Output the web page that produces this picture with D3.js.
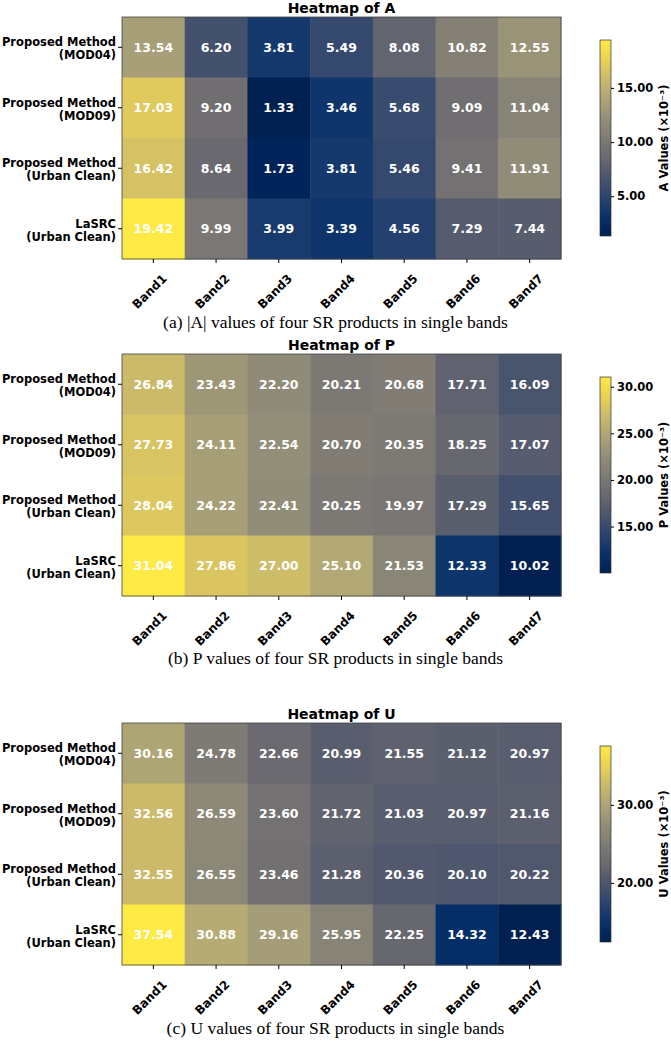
<!DOCTYPE html>
<html><head><meta charset="utf-8">
<script src="https://cdn.jsdelivr.net/npm/d3@7"></script>
<style>body{margin:0;background:#fff}</style>
</head><body>
<div id="chart"></div>
<script>
const bands = ['Band1','Band2','Band3','Band4','Band5','Band6','Band7'];
const methods = [['Proposed Method','(MOD04)'],['Proposed Method','(MOD09)'],['Proposed Method','(Urban Clean)'],['LaSRC','(Urban Clean)']];

const valuesA = [
  [13.54, 6.20, 3.81, 5.49, 8.08, 10.82, 12.55],
  [17.03, 9.20, 1.33, 3.46, 5.68, 9.09, 11.04],
  [16.42, 8.64, 1.73, 3.81, 5.46, 9.41, 11.91],
  [19.42, 9.99, 3.99, 3.39, 4.56, 7.29, 7.44]
];
const valuesP = [
  [26.84, 23.43, 22.20, 20.21, 20.68, 17.71, 16.09],
  [27.73, 24.11, 22.54, 20.70, 20.35, 18.25, 17.07],
  [28.04, 24.22, 22.41, 20.25, 19.97, 17.29, 15.65],
  [31.04, 27.86, 27.00, 25.10, 21.53, 12.33, 10.02]
];
const valuesU = [
  [30.16, 24.78, 22.66, 20.99, 21.55, 21.12, 20.97],
  [32.56, 26.59, 23.60, 21.72, 21.03, 20.97, 21.16],
  [32.55, 26.55, 23.46, 21.28, 20.36, 20.10, 20.22],
  [37.54, 30.88, 29.16, 25.95, 22.25, 14.32, 12.43]
];
const ticksA = [5, 10, 15], ticksP = [15, 20, 25, 30], ticksU = [20, 30];

const panels = [
  {name:'A', values:valuesA, ticks:ticksA, top:17, caption:'(a) |A| values of four SR products in single bands', capY:328},
  {name:'P', values:valuesP, ticks:ticksP, top:354, caption:'(b) P values of four SR products in single bands', capY:664},
  {name:'U', values:valuesU, ticks:ticksU, top:723, caption:'(c) U values of four SR products in single bands', capY:1034}
];

const W = 671, H = 1041, left = 122, gridW = 439, gridH = 242;
const svg = d3.select('#chart').append('svg').attr('width', W).attr('height', H)
  .style('font-family', 'DejaVu Sans');

panels.forEach((p, pi) => {
  const g = svg.append('g').attr('transform', `translate(0,${p.top})`);
  const x = d3.scaleBand().domain(bands).range([left, left + gridW]);
  const y = d3.scaleBand().domain(d3.range(4)).range([0, gridH]);
  const ext = d3.extent(p.values.flat());
  const color = d3.scaleSequential(d3.interpolateCividis).domain(ext);

  const cells = [];
  p.values.forEach((row, r) => row.forEach((v, c) => cells.push({r, c, v})));
  g.selectAll('rect.cell').data(cells).join('rect')
    .attr('x', d => x(bands[d.c])).attr('y', d => y(d.r))
    .attr('width', x.bandwidth() + 0.5).attr('height', y.bandwidth() + 0.5)
    .attr('fill', d => color(d.v));
  g.selectAll('text.val').data(cells).join('text')
    .attr('x', d => x(bands[d.c]) + x.bandwidth() / 2)
    .attr('y', d => y(d.r) + y.bandwidth() / 2)
    .attr('text-anchor', 'middle').attr('dominant-baseline', 'central')
    .attr('fill', '#fff').attr('font-weight', 'bold').attr('font-size', 12.5)
    .text(d => d.v.toFixed(2));
  g.append('rect').attr('x', left).attr('y', 0).attr('width', gridW).attr('height', gridH)
    .attr('fill', 'none').attr('stroke', '#444').attr('stroke-width', 0.8);

  g.append('text').attr('x', left + gridW / 2).attr('y', -4).attr('text-anchor', 'middle')
    .attr('font-weight', 'bold').attr('font-size', 14).text('Heatmap of ' + p.name);

  // x axis
  bands.forEach(b => {
    const cx = x(b) + x.bandwidth() / 2;
    g.append('line').attr('x1', cx).attr('x2', cx).attr('y1', gridH).attr('y2', gridH + 4).attr('stroke', '#000');
    g.append('text').attr('transform', `translate(${cx + 8},${gridH + 14}) rotate(-45)`)
      .attr('text-anchor', 'end').attr('dominant-baseline', 'hanging')
      .attr('font-weight', 'bold').attr('font-size', 12).text(b);
  });
  // y axis
  methods.forEach((m, r) => {
    const cy = y(r) + y.bandwidth() / 2;
    g.append('line').attr('x1', left - 4).attr('x2', left).attr('y1', cy).attr('y2', cy).attr('stroke', '#000');
    const t = g.append('text').attr('text-anchor', 'end').attr('font-weight', 'bold').attr('font-size', 11.5);
    t.append('tspan').attr('x', left - 6).attr('y', cy - 1).text(m[0]);
    t.append('tspan').attr('x', left - 6).attr('y', cy + 12).text(m[1]);
  });

  // colorbar
  const cbH = 196, cbTop = gridH / 2 - cbH / 2, cbX = 600, cbW = 11;
  const gid = 'grad' + pi;
  const grad = svg.append('defs').append('linearGradient').attr('id', gid)
    .attr('x1', 0).attr('y1', 1).attr('x2', 0).attr('y2', 0);
  d3.range(0, 1.01, 0.1).forEach(t => grad.append('stop').attr('offset', t).attr('stop-color', d3.interpolateCividis(t)));
  g.append('rect').attr('x', cbX).attr('y', cbTop).attr('width', cbW).attr('height', cbH)
    .attr('fill', `url(#${gid})`).attr('stroke', '#333').attr('stroke-width', 0.7);
  const cy = d3.scaleLinear().domain(ext).range([cbTop + cbH, cbTop]);
  const axis = d3.axisRight(cy).tickValues(p.ticks).tickFormat(d3.format('.2f')).tickSize(3);
  const ag = g.append('g').attr('transform', `translate(${cbX + cbW},0)`).call(axis);
  ag.select('.domain').remove();
  ag.selectAll('text').attr('font-weight', 'bold').attr('font-size', 11.5).attr('font-family', 'DejaVu Sans');
  g.append('text').attr('transform', `translate(668,${gridH / 2}) rotate(-90)`)
    .attr('text-anchor', 'middle').attr('font-weight', 'bold').attr('font-size', 11.5)
    .text(p.name + ' Values (×10⁻³)');

  svg.append('text').attr('x', W / 2).attr('y', p.capY).attr('text-anchor', 'middle')
    .attr('font-family', 'Liberation Serif').attr('font-size', 17.5).text(p.caption);
});
</script>
</body></html>
